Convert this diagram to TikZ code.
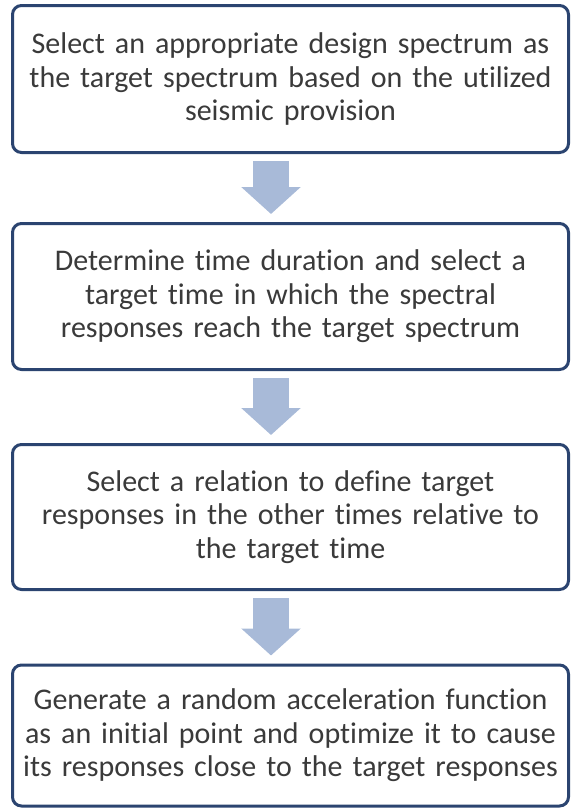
\documentclass[tikz,border=0pt]{standalone}
\usepackage{fontspec}
\setmainfont{Carlito}[Ligatures=NoCommon]
\usetikzlibrary{arrows.meta}
\definecolor{boxline}{HTML}{2B4470}
\definecolor{arrowfill}{HTML}{A8BAD8}
\definecolor{txt}{HTML}{3A3A3A}
\begin{document}
\begin{tikzpicture}[x=1pt,y=-1pt,
  stepbox/.style={draw=boxline, line width=3pt, rounded corners=9pt, fill=white,
    minimum width=556pt, text width=550pt, align=center, text=txt,
    font=\fontsize{30}{33.5}\selectfont, inner sep=0pt},
  bigarrow/.style={draw=arrowfill, line width=36pt,
    -{Triangle[width=58pt,length=27pt]}, shorten <=7pt, shorten >=8pt}]
\useasboundingbox (0,0) rectangle (571,809);
\node[stepbox, minimum height=147pt] (b1) at (290.5,79)
  {Select an appropriate design spectrum as\\ the target spectrum based on the utilized\\ seismic provision};
\node[stepbox, minimum height=146pt] (b2) at (290.5,296.5)
  {Determine time duration and select a\\ target time in which the spectral\\ responses reach the target spectrum};
\node[stepbox, minimum height=145pt] (b3) at (290.5,517)
  {Select a relation to define target\\ responses in the other times relative to\\ the target time};
\node[stepbox, minimum height=141pt] (b4) at (290.5,735.5)
  {Generate a random acceleration function\\ as an initial point and optimize it to cause\\ its responses close to the target responses};
\coordinate (ax) at (271,0);
\draw[bigarrow] (b1.south -| ax) -- (b2.north -| ax);
\draw[bigarrow] (b2.south -| ax) -- (b3.north -| ax);
\draw[bigarrow] (b3.south -| ax) -- (b4.north -| ax);
\end{tikzpicture}
\end{document}
